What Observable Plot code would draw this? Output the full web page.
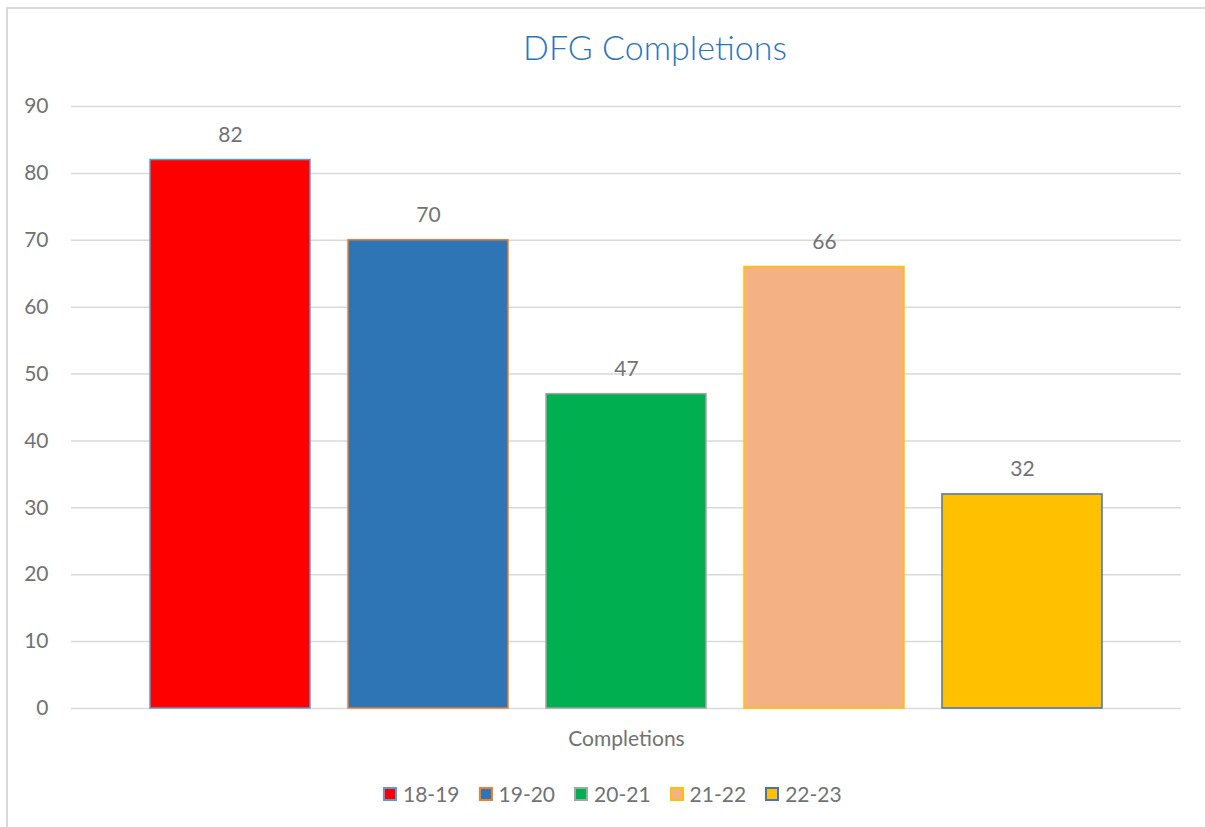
<!DOCTYPE html>
<html>
<head>
<meta charset="utf-8">
<script src="https://cdn.jsdelivr.net/npm/d3@7"></script>
<script src="https://cdn.jsdelivr.net/npm/@observablehq/plot@0.6"></script>
<style>
  html, body { margin: 0; padding: 0; background: #fff; }
  body { width: 1205px; height: 827px; position: relative; overflow: hidden; font-family: Lato, "Open Sans", sans-serif; }
  #frame { position: absolute; left: 6px; top: 7px; width: 1199px; height: 820px; border-top: 2px solid #d9d9d9; border-left: 2px solid #d9d9d9; box-sizing: border-box; }
  #title { position: absolute; left: 0; top: 26px; width: 1310px; text-align: center; font-size: 34px; color: #2e75b6; margin: 0; font-weight: 300; }
  #chart { position: absolute; left: 0; top: 90px; }
  #legend { position: absolute; left: 383px; top: 781px; display: flex; align-items: center; font-size: 21px; color: #727272; }
  .item { display: flex; align-items: center; margin-right: 19px; }
  .sw { width: 10px; height: 10px; border: 2px solid; margin-right: 6px; }
</style>
</head>
<body>
<div id="frame"></div>
<h2 id="title">DFG Completions</h2>
<div id="chart"></div>
<div id="legend"></div>
<script>
const periods = ["18-19", "19-20", "20-21", "21-22", "22-23"];
const values = [82, 70, 47, 66, 32];
const fillColors = ["#ff0000", "#2e75b6", "#00b050", "#f4b183", "#ffc000"];
const borderColors = ["#5b9bd5", "#ed7d31", "#a5a5a5", "#ffc000", "#4472c4"];
const yTicks = [0, 10, 20, 30, 40, 50, 60, 70, 80, 90];
const categoryLabel = "Completions";

const data = periods.map((p, i) => ({period: p, value: values[i], fill: fillColors[i], stroke: borderColors[i]}));

const textColor = "#727272";
const plot = Plot.plot({
  width: 1205,
  height: 670,
  marginLeft: 71,
  marginRight: 24,
  marginTop: 16,
  marginBottom: 52,
  style: {fontFamily: "Lato, 'Open Sans', sans-serif", background: "transparent"},
  x: {domain: periods, paddingInner: 0.192, paddingOuter: 0.399, axis: null},
  y: {domain: [0, 90], ticks: yTicks},
  marks: [
    Plot.gridY(yTicks, {stroke: "#d9d9d9", strokeOpacity: 1, strokeWidth: 1.5}),
    Plot.axisY(yTicks, {tickSize: 0, tickPadding: 23, fontSize: 21, fill: textColor, label: null}),
    Plot.barY(data, {x: "period", y: "value", fill: "fill", stroke: "stroke", strokeWidth: 1.5}),
    Plot.text(data, {x: "period", y: "value", text: d => String(d.value), dy: -25, fontSize: 21, fill: textColor}),
    Plot.text([categoryLabel], {frameAnchor: "bottom", dy: 37, fontSize: 21, fill: textColor})
  ]
});
document.getElementById("chart").appendChild(plot);

const legend = document.getElementById("legend");
periods.forEach((p, i) => {
  const item = document.createElement("div");
  item.className = "item";
  const sw = document.createElement("span");
  sw.className = "sw";
  sw.style.background = fillColors[i];
  sw.style.borderColor = borderColors[i];
  const t = document.createElement("span");
  t.textContent = p;
  item.appendChild(sw);
  item.appendChild(t);
  legend.appendChild(item);
});
</script>
</body>
</html>
